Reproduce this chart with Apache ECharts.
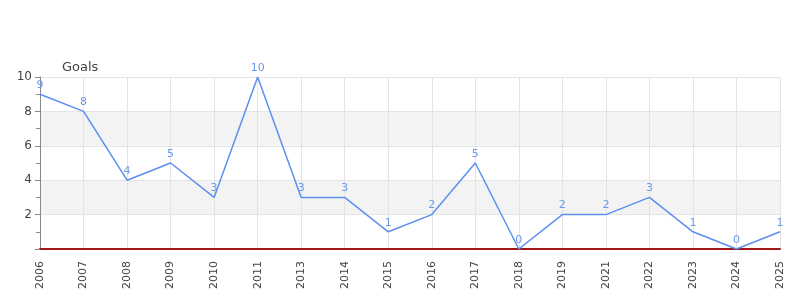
<!DOCTYPE html>
<html>
<head>
<meta charset="utf-8">
<script src="https://cdn.jsdelivr.net/npm/echarts@6/dist/echarts.min.js"></script>
<style>
  html, body { margin: 0; padding: 0; background: #fff; }
  #main { width: 800px; height: 300px; }
</style>
</head>
<body>
<div id="main"></div>
<script>
// seasons and goals
var years = ['2006', '2007', '2008', '2009', '2010', '2011', '2013', '2014', '2015',
  '2016', '2017', '2018', '2019', '2021', '2022', '2023', '2024', '2025']
var goals = [9, 8, 4, 5, 3, 10, 3, 3, 1, 2, 5, 0, 2, 2, 3, 1, 0, 1]

var lineColor = '#5b8ff0'

var myChart = echarts.init(document.getElementById('main'))
myChart.setOption({
  animation: false,
  textStyle: { fontFamily: 'DejaVu Sans' },
  grid: {
    left: 40,
    right: 20,
    top: 77,
    bottom: 51
  },
  xAxis: {
    type: 'category',
    data: years,
    boundaryGap: false,
    axisLine: { lineStyle: { color: '#a01515', width: 2 } },
    axisTick: { show: false },
    axisLabel: {
      rotate: 90,
      interval: 0,
      margin: 12,
      color: '#444',
      fontSize: 11
    },
    splitLine: { show: true, lineStyle: { color: '#e4e4e4' } }
  },
  yAxis: {
    type: 'value',
    min: 0,
    max: 10,
    interval: 2,
    name: 'Goals',
    nameGap: 3,
    nameTextStyle: { color: '#444', fontSize: 13, align: 'left', padding: [0, 0, 0, 22] },
    axisLine: { show: true, lineStyle: { color: '#888' } },
    axisTick: { show: true, length: 5, lineStyle: { color: '#888' } },
    minorTick: { show: true, splitNumber: 2, length: 4, lineStyle: { color: '#888' } },
    axisLabel: { color: '#444', fontSize: 12, showMinLabel: false, margin: 8 },
    splitLine: { show: true, lineStyle: { color: '#e4e4e4' } },
    splitArea: { show: true, areaStyle: { color: ['rgba(0,0,0,0)', '#f3f3f3'] } }
  },
  series: [
    {
      name: 'Goals',
      type: 'line',
      data: goals,
      symbol: 'circle',
      symbolSize: 1,
      showAllSymbol: true,
      lineStyle: { color: lineColor, width: 1.5 },
      itemStyle: { color: 'rgba(0,0,0,0)', borderWidth: 0 },
      label: {
        show: true,
        position: 'top',
        distance: 3,
        color: '#6a9af0',
        fontSize: 11
      }
    }
  ]
})
</script>
</body>
</html>
